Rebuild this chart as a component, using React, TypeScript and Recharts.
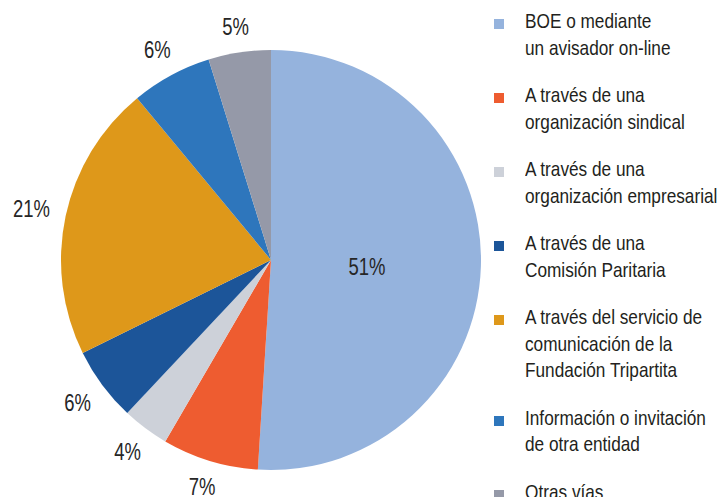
import { Legend, Pie, PieChart } from "recharts"

const categories = [
  "BOE o mediante\nun avisador on-line",
  "A través de una\norganización sindical",
  "A través de una\norganización empresarial",
  "A través de una\nComisión Paritaria",
  "A través del servicio de\ncomunicación de la\nFundación Tripartita",
  "Información o invitación\nde otra entidad",
  "Otras vías",
]
const shares = [51.0, 7.4, 3.6, 5.7, 21.3, 6.2, 4.8]
const colors = ["#95b3dd", "#ee5c30", "#cdd1d9", "#1c5599", "#de981a", "#2e76bc", "#9599a8"]

const data = categories.map((name, i) => ({ name, value: shares[i], fill: colors[i] }))

const FONT = "'Liberation Sans', Arial, sans-serif"
const RAD = Math.PI / 180
const LABEL_SIZE = 24
const LABEL_NARROW = 0.77
const LEGEND_NARROW = 0.82

// outside labels: pushed out along the radius by a gap plus half the box in that direction
const renderLabel = (props: any) => {
  const { cx, cy, midAngle, outerRadius, percent } = props
  const pct = Math.round(percent * 100)
  const text = `${pct}%`
  const ux = Math.cos(-midAngle * RAD)
  const uy = Math.sin(-midAngle * RAD)
  let r: number
  let dy = 0
  if (pct > 40) {
    r = 96
    dy = 4
  } else {
    const w = ((text.length - 1) * 0.556 + 0.889) * LABEL_SIZE * LABEL_NARROW
    const h = 17
    r = outerRadius + 15 + (w / 2) * Math.abs(ux) + (h / 2) * Math.abs(uy)
  }
  const x = cx + r * ux
  const y = cy + r * uy + dy
  return (
    <text
      transform={`translate(${x},${y}) scale(${LABEL_NARROW},1)`}
      textAnchor="middle"
      dominantBaseline="central"
      fill="#262626"
      fontSize={LABEL_SIZE}
      fontFamily={FONT}
    >
      {text}
    </text>
  )
}

const renderLegend = () => (
  <div style={{ fontFamily: FONT, fontSize: 21, color: "#231f20", lineHeight: "26.5px" }}>
    {categories.map((name, i) => (
      <div key={i} style={{ display: "flex", alignItems: "flex-start", marginBottom: 21 }}>
        <span style={{ width: 10, height: 10, background: colors[i], marginTop: 11, marginRight: 21, flexShrink: 0 }} />
        <span
          style={{
            whiteSpace: "pre",
            display: "inline-block",
            transform: `scaleX(${LEGEND_NARROW})`,
            transformOrigin: "left top",
          }}
        >
          {name}
        </span>
      </div>
    ))}
  </div>
)

export default function App() {
  return (
    <div style={{ position: "absolute", left: 0, top: 0, background: "#fff" }}>
      <PieChart width={723} height={497} margin={{ top: 0, right: 0, bottom: 0, left: 0 }}>
        <Pie
          data={data}
          dataKey="value"
          nameKey="name"
          cx={271}
          cy={260}
          outerRadius={210}
          startAngle={90}
          endAngle={-270}
          stroke="none"
          label={renderLabel}
          labelLine={false}
          isAnimationActive={false}
        />
        <Legend
          layout="vertical"
          align="right"
          verticalAlign="top"
          content={renderLegend}
          wrapperStyle={{ left: 494, top: 8, width: 229 }}
        />
      </PieChart>
    </div>
  )
}
